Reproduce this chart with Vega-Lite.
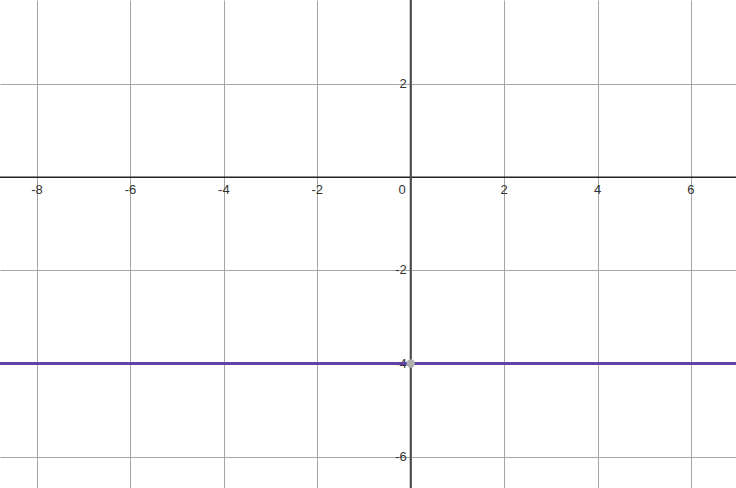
{
  "$schema": "https://vega.github.io/schema/vega-lite/v6.json",
  "width": 736,
  "height": 488,
  "padding": 0,
  "autosize": {"type": "none"},
  "background": "white",
  "config": {
    "view": {"stroke": null},
    "axis": {"labels": false, "ticks": false, "domain": false, "title": null, "grid": true, "gridColor": "#a6a6a6", "gridWidth": 1, "gridOpacity": 1}
  },
  "datasets": {
    "xlabels": [
      {"x": -8, "label": "-8"}, {"x": -6, "label": "-6"}, {"x": -4, "label": "-4"}, {"x": -2, "label": "-2"},
      {"x": 2, "label": "2"}, {"x": 4, "label": "4"}, {"x": 6, "label": "6"}
    ],
    "ylabels": [
      {"y": 2, "label": "2"}, {"y": -2, "label": "-2"}, {"y": -4, "label": "-4"}, {"y": -6, "label": "-6"}
    ],
    "origin": [{"x": 0, "y": 0, "label": "0"}],
    "curve": [{"y": -4}],
    "pt": [{"x": 0, "y": -4}]
  },
  "layer": [
    {
      "data": {"name": "xlabels"},
      "mark": {"type": "text", "baseline": "top", "align": "center", "dy": 7, "fontSize": 13, "font": "Liberation Sans", "color": "#333"},
      "encoding": {
        "x": {"field": "x", "type": "quantitative", "scale": {"domain": [-8.793, 6.964], "nice": false, "zero": false}, "axis": {"values": [-8, -6, -4, -2, 0, 2, 4, 6]}},
        "y": {"datum": 0, "type": "quantitative", "scale": {"domain": [-6.671, 3.803], "nice": false, "zero": false}, "axis": {"values": [-6, -4, -2, 0, 2]}},
        "text": {"field": "label"}
      }
    },
    {
      "data": {"name": "ylabels"},
      "mark": {"type": "text", "baseline": "middle", "align": "right", "dx": -4, "fontSize": 13, "font": "Liberation Sans", "color": "#333"},
      "encoding": {
        "x": {"datum": 0, "type": "quantitative"},
        "y": {"field": "y", "type": "quantitative"},
        "text": {"field": "label"}
      }
    },
    {
      "data": {"name": "origin"},
      "mark": {"type": "text", "baseline": "top", "align": "right", "dx": -5, "dy": 7, "fontSize": 13, "font": "Liberation Sans", "color": "#333"},
      "encoding": {
        "x": {"field": "x", "type": "quantitative"},
        "y": {"field": "y", "type": "quantitative"},
        "text": {"field": "label"}
      }
    },
    {
      "data": {"name": "origin"},
      "mark": {"type": "rule", "color": "#222", "strokeWidth": 1.5},
      "encoding": {"y": {"field": "y", "type": "quantitative"}}
    },
    {
      "data": {"name": "origin"},
      "mark": {"type": "rule", "color": "#4a4a4a", "strokeWidth": 2},
      "encoding": {"x": {"field": "x", "type": "quantitative"}}
    },
    {
      "data": {"name": "curve"},
      "mark": {"type": "rule", "color": "#6042a6", "strokeWidth": 3},
      "encoding": {"y": {"field": "y", "type": "quantitative"}}
    },
    {
      "data": {"name": "pt"},
      "mark": {"type": "circle", "color": "#b0b0b0", "opacity": 1, "size": 70},
      "encoding": {
        "x": {"field": "x", "type": "quantitative"},
        "y": {"field": "y", "type": "quantitative"}
      }
    }
  ]
}
